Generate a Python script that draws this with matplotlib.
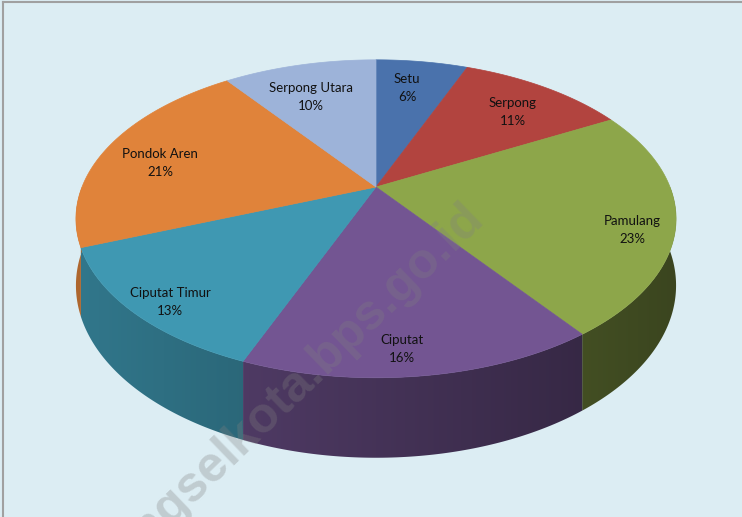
import numpy as np
import matplotlib.pyplot as plt
from matplotlib.patches import Polygon
from matplotlib.colors import to_rgb

# Persentase per kecamatan
kecamatan = ["Setu", "Serpong", "Pamulang", "Ciputat", "Ciputat Timur",
             "Pondok Aren", "Serpong Utara"]
persen = [6, 11, 23, 16, 13, 21, 10]
warna = ["#4a72ac", "#b2443f", "#8da64a", "#735592", "#3f98b2",
         "#e0833a", "#9db3d9"]

# posisi teks label (piksel)
posisi_label = [(407, 88), (513, 112), (632, 230), (402, 349), (170, 302),
                (160, 163), (311, 97)]

# geometri pie 3D dengan perspektif (piksel)
cx, cy = 376, 187        # titik tengah pie
a, b = 294, 152.6        # jari-jari horizontal / vertikal
k = 0.2                  # kekuatan perspektif
tebal = 64               # ketebalan sisi

fig = plt.figure(figsize=(7.42, 5.17), dpi=100)
fig.patch.set_facecolor("#dcedf3")
ax = fig.add_axes([0, 0, 1, 1])


def proyeksi(phi, z=0.0):
    r = np.radians(phi)
    w = 1.0 / (1.0 + k * np.sin(r))
    x = cx + a * np.cos(r) * w
    y = cy - b * np.sin(r) * w + z * tebal * w
    return x, y


total = sum(persen)
batas = 90 - 360 * np.concatenate([[0], np.cumsum(persen)]) / total

# sisi depan (bagian -180..0 derajat), diberi gradasi gelap ke kanan
for i in range(len(persen)):
    lo, hi = max(batas[i + 1], -180), min(batas[i], 0)
    if hi <= lo:
        continue
    phis = np.linspace(hi, lo, 80)
    xt, yt = proyeksi(phis)
    xb, yb = proyeksi(phis[::-1], 1.0)
    verts = np.column_stack([np.r_[xt, xb], np.r_[yt, yb]])
    poly = Polygon(verts, closed=True, facecolor="none", edgecolor="none")
    ax.add_patch(poly)
    x0, x1 = verts[:, 0].min() - 2, verts[:, 0].max() + 2
    y0, y1 = verts[:, 1].min() - 2, verts[:, 1].max() + 2
    xs = np.linspace(x0, x1, 200)
    f = 0.6 - 0.18 * np.clip((xs - cx) / a, -1, 1)
    grad = np.array(to_rgb(warna[i]))[None, None, :] * f[None, :, None]
    grad = np.repeat(grad, 2, axis=0)
    im = ax.imshow(grad, extent=(x0, x1, y1, y0), aspect="auto",
                   interpolation="bilinear", zorder=1)
    im.set_clip_path(poly)

# permukaan atas
for i in range(len(persen)):
    phis = np.linspace(batas[i], batas[i + 1], 100)
    xs, ys = proyeksi(phis)
    verts = [(cx, cy)] + list(zip(xs, ys))
    ax.add_patch(Polygon(verts, closed=True, facecolor=warna[i],
                         edgecolor=warna[i], linewidth=0.5, zorder=2))

# label
for nama, p, (lx, ly) in zip(kecamatan, persen, posisi_label):
    ax.text(lx, ly, f"{nama}\n{p}%", ha="center", va="center", zorder=3,
            fontsize=9.5, family="Lato", color="#111111", linespacing=1.6)

# watermark
ax.text(486, 222, "tangselkota.bps.go.id", rotation=44, rotation_mode="anchor",
        ha="right", va="baseline", fontsize=36, fontweight="bold", zorder=4,
        family="Liberation Sans", color="#808080", alpha=0.3)

# garis tepi
ax.plot([3, 742], [2, 2], color="#a0a0a0", lw=1.5, zorder=5)
ax.plot([3, 3], [2, 517], color="#a0a0a0", lw=1.5, zorder=5)

ax.set_xlim(0, 742)
ax.set_ylim(517, 0)
ax.axis("off")

fig.savefig("out.png", dpi=100, facecolor=fig.get_facecolor())
